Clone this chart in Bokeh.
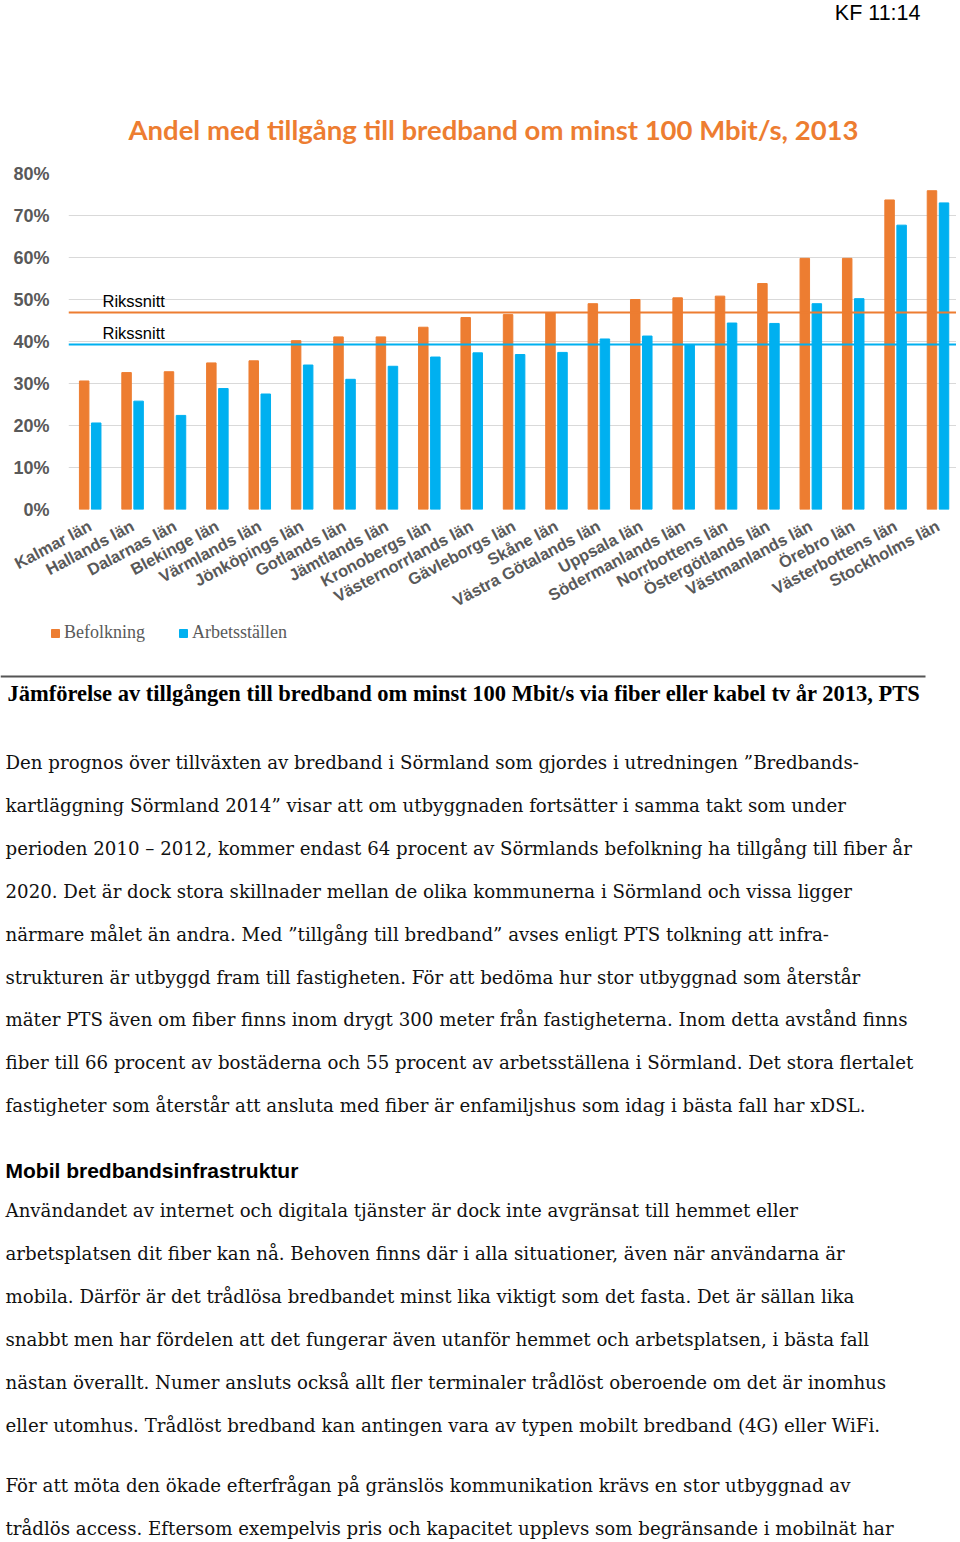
from bokeh.plotting import figure
from bokeh.layouts import column
from bokeh.models import (Range1d, FixedTicker, Span, Label, Legend, LegendItem,
                          BoxAnnotation, ColumnDataSource)
from bokeh.embed import file_html
from bokeh.resources import INLINE
import numpy as np

# ---------------- data ----------------
regions = ["Kalmar län", "Hallands län", "Dalarnas län", "Blekinge län", "Värmlands län",
           "Jönköpings län", "Gotlands län", "Jämtlands län", "Kronobergs län",
           "Västernorrlands län", "Gävleborgs län", "Skåne län", "Västra Götalands län",
           "Uppsala län", "Södermanlands län", "Norrbottens län", "Östergötlands län",
           "Västmanlands län", "Örebro län", "Västerbottens län", "Stockholms län"]
befolkning = [30.6, 32.6, 32.8, 34.9, 35.4, 40.2, 41.1, 41.1, 43.4, 45.7, 46.4,
              46.9, 49.0, 50.0, 50.4, 50.8, 53.8, 59.8, 59.8, 73.7, 75.9]
arbetsstallen = [20.6, 25.8, 22.4, 28.8, 27.5, 34.4, 31.0, 34.1, 36.3, 37.3, 36.9,
                 37.4, 40.6, 41.3, 39.3, 44.4, 44.3, 49.0, 50.2, 67.7, 73.0]
series_names = ["Befolkning", "Arbetsställen"]
rikssnitt_befolkning = 46.9
rikssnitt_arbetsstallen = 39.3
y_ticks = [0, 10, 20, 30, 40, 50, 60, 70, 80]
y_tick_labels = ["0%", "10%", "20%", "30%", "40%", "50%", "60%", "70%", "80%"]

title_text = "Andel med tillgång till bredband om minst 100 Mbit/s, 2013"
header_text = "KF 11:14"
caption_text = ("Jämförelse av tillgången till bredband om minst 100 Mbit/s via fiber "
                "eller kabel tv år 2013, PTS")
heading_text = "Mobil bredbandsinfrastruktur"
paragraph1 = [
    "Den prognos över tillväxten av bredband i Sörmland som gjordes i utredningen ”Bredbands-",
    "kartläggning Sörmland 2014” visar att om utbyggnaden fortsätter i samma takt som under",
    "perioden 2010 – 2012, kommer endast 64 procent av Sörmlands befolkning ha tillgång till fiber år",
    "2020. Det är dock stora skillnader mellan de olika kommunerna i Sörmland och vissa ligger",
    "närmare målet än andra. Med ”tillgång till bredband” avses enligt PTS tolkning att infra-",
    "strukturen är utbyggd fram till fastigheten. För att bedöma hur stor utbyggnad som återstår",
    "mäter PTS även om fiber finns inom drygt 300 meter från fastigheterna. Inom detta avstånd finns",
    "fiber till 66 procent av bostäderna och 55 procent av arbetsställena i Sörmland. Det stora flertalet",
    "fastigheter som återstår att ansluta med fiber är enfamiljshus som idag i bästa fall har xDSL.",
]
paragraph2 = [
    "Användandet av internet och digitala tjänster är dock inte avgränsat till hemmet eller",
    "arbetsplatsen dit fiber kan nå. Behoven finns där i alla situationer, även när användarna är",
    "mobila. Därför är det trådlösa bredbandet minst lika viktigt som det fasta. Det är sällan lika",
    "snabbt men har fördelen att det fungerar även utanför hemmet och arbetsplatsen, i bästa fall",
    "nästan överallt. Numer ansluts också allt fler terminaler trådlöst oberoende om det är inomhus",
    "eller utomhus. Trådlöst bredband kan antingen vara av typen mobilt bredband (4G) eller WiFi.",
]
paragraph3 = [
    "För att möta den ökade efterfrågan på gränslös kommunikation krävs en stor utbyggnad av",
    "trådlös access. Eftersom exempelvis pris och kapacitet upplevs som begränsande i mobilnät har",
]

# ---------------- styles / layout ----------------
ORANGE = "#ED7D31"
BLUE = "#00B0F0"
GREY_TXT = "#595959"
W = 956
HEAD_H, CHART_H, LEG_H, TEXT_H = 160, 461, 44, 875   # 0-160, 160-621, 621-665, 665-1540
FRAME_L, FRAME_T, FRAME_B = 68, 173, 509              # page coordinates of the chart frame
CAT_W = 42.39


def no_align(f):
    if "frame_align" in f.properties():
        f.frame_align = False


def blank_fig(height, y_top):
    f = figure(width=W, height=height, output_backend="svg", toolbar_location=None,
               x_range=Range1d(0, W), y_range=Range1d(y_top + height, y_top),
               min_border=0, min_border_left=0, min_border_right=0,
               min_border_top=0, min_border_bottom=0,
               x_axis_location=None, y_axis_location=None)
    f.grid.visible = False
    f.outline_line_color = None
    no_align(f)
    return f


def txt(f, text, px, py, size, font, color, style="normal", align="left"):
    f.add_layout(Label(x=px, y=py, text=text, text_font=font,
                       text_font_size=f"{size}px", text_color=color,
                       text_font_style=style, text_align=align,
                       text_baseline="middle"))


# ---- header ----
head = blank_fig(HEAD_H, 0)
txt(head, header_text, 920, 12, 21.5, "Liberation Sans", "black", align="right")
txt(head, title_text, 493, 129, 27.5, "Lato", ORANGE, style="bold", align="center")

# ---- chart ----
idx = np.arange(len(regions))
src = ColumnDataSource(dict(
    x_bef=idx - 0.142, x_arb=idx + 0.142,
    bef=befolkning, arb=arbetsstallen, name=regions))

x0 = -0.5 - 0.5 / CAT_W
x1 = x0 + (W - FRAME_L) / CAT_W

p = figure(width=W, height=CHART_H, output_backend="svg", toolbar_location=None,
           x_range=Range1d(x0, x1), y_range=Range1d(0, 80),
           min_border_left=FRAME_L, min_border_right=0,
           min_border_top=FRAME_T - HEAD_H,
           min_border_bottom=(HEAD_H + CHART_H) - FRAME_B)
p.outline_line_color = None
no_align(p)

p.vbar(x="x_bef", top="bef", width=0.224, source=src, color=ORANGE)
p.vbar(x="x_arb", top="arb", width=0.224, source=src, color=BLUE)

p.xgrid.visible = False
p.ygrid.ticker = FixedTicker(ticks=y_ticks)
p.ygrid.grid_line_color = "#D9D9D9"
p.ygrid.grid_line_width = 1

p.yaxis.ticker = FixedTicker(ticks=y_ticks)
p.yaxis.major_label_overrides = {t: l for t, l in zip(y_ticks, y_tick_labels)}
p.yaxis.axis_line_color = None
p.yaxis.major_tick_line_color = None
p.yaxis.minor_tick_line_color = None
p.yaxis.major_tick_out = 0
p.yaxis.minor_tick_out = 0
p.yaxis.major_label_text_font = "Liberation Sans"
p.yaxis.major_label_text_font_style = "bold"
p.yaxis.major_label_text_font_size = "18px"
p.yaxis.major_label_text_color = GREY_TXT
p.yaxis.major_label_standoff = 19

p.xaxis.ticker = FixedTicker(ticks=list(idx))
p.xaxis.major_label_overrides = {int(i): n for i, n in zip(idx, regions)}
p.xaxis.major_label_orientation = 0.49
p.xaxis.axis_line_color = None
p.xaxis.major_tick_line_color = None
p.xaxis.minor_tick_line_color = None
p.xaxis.major_tick_out = 0
p.xaxis.minor_tick_out = 0
p.xaxis.major_label_text_font = "Liberation Sans"
p.xaxis.major_label_text_font_style = "bold"
p.xaxis.major_label_text_font_size = "16.5px"
p.xaxis.major_label_text_color = GREY_TXT
p.xaxis.major_label_standoff = 15

for val, col in [(rikssnitt_befolkning, ORANGE), (rikssnitt_arbetsstallen, BLUE)]:
    p.add_layout(Span(location=val, dimension="width", line_color=col, line_width=2))
    p.add_layout(Label(x=102 - FRAME_L, x_units="screen", y=val + 2.8,
                       text="Rikssnitt", text_font="Liberation Sans",
                       text_font_size="16.5px", text_color="black",
                       text_baseline="alphabetic"))

# ---- legend strip (swatches take the series' glyph styles; no data drawn) ----
leg = blank_fig(LEG_H, HEAD_H + CHART_H)
swatch_src = ColumnDataSource(dict(x=[np.nan], top=[np.nan]))
lr_bef = leg.vbar(x="x", top="top", width=1, source=swatch_src, color=ORANGE)
lr_arb = leg.vbar(x="x", top="top", width=1, source=swatch_src, color=BLUE)
legend = Legend(items=[LegendItem(label=series_names[0], renderers=[lr_bef]),
                       LegendItem(label=series_names[1], renderers=[lr_arb])],
                location=(50, 22), orientation="horizontal",
                glyph_width=10, glyph_height=10, label_height=20,
                label_standoff=4, spacing=33,
                padding=0, margin=0, border_line_color=None,
                background_fill_alpha=0, label_text_font="Liberation Serif",
                label_text_font_size="18px", label_text_color=GREY_TXT)
leg.add_layout(legend)

# ---- text block ----
T0 = HEAD_H + CHART_H + LEG_H
tb = blank_fig(TEXT_H, T0)
tb.add_layout(BoxAnnotation(left=0, right=925, top=675, bottom=677,
                            fill_color="#555555", fill_alpha=1, line_color=None))
txt(tb, caption_text, 7, 693, 22.5, "Liberation Serif", "black", style="bold")

BODY_FONT, BODY_SIZE, BODY_COL = "DejaVu Serif", 18.2, "#111111"
LINE = 42.9
for i, t in enumerate(paragraph1):
    txt(tb, t, 5, 762 + i * LINE, BODY_SIZE, BODY_FONT, BODY_COL)
txt(tb, heading_text, 5, 1170, 21, "Liberation Sans", "black", style="bold")
for i, t in enumerate(paragraph2):
    txt(tb, t, 5, 1210 + i * LINE, BODY_SIZE, BODY_FONT, BODY_COL)
for i, t in enumerate(paragraph3):
    txt(tb, t, 5, 1485 + i * LINE, BODY_SIZE, BODY_FONT, BODY_COL)

layout = column(head, p, leg, tb, spacing=0)
open("out.html", "w").write(file_html(layout, INLINE))
